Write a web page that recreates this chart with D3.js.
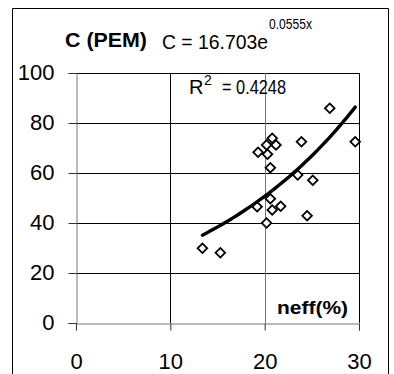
<!DOCTYPE html>
<html>
<head>
<meta charset="utf-8">
<script src="https://cdn.jsdelivr.net/npm/d3@7"></script>
<style>
  html, body { margin: 0; padding: 0; background: #fff; }
  svg { display: block; font-family: "Liberation Sans", Arial, sans-serif; }
</style>
</head>
<body>
<svg id="chart" width="394" height="374"></svg>
<script>
// ---- data ----
const neff = [20.8, 20.2, 21.2, 19.3, 20.3, 23.9, 29.6, 20.6, 23.5, 25.1, 20.6, 19.2, 20.8, 21.7, 20.2, 24.5, 13.4, 15.3, 26.9];
const cVals = [73.9, 71.2, 71.2, 68.3, 67.5, 72.5, 72.5, 62.1, 59.2, 57.1, 49.7, 46.5, 45.2, 46.7, 40.0, 42.9, 29.9, 28.1, 85.9];
const xTicks = [0, 10, 20, 30];
const yTicks = [0, 20, 40, 60, 80, 100];
const trendCoef = [16.703, 0.0555];   // C = a * e^(b x)
const title = "C (PEM)";
const xTitle = "neff(%)";
const eqMain = "C = 16.703e";
const eqExp = "0.0555x";
const r2Val = "= 0.4248";

const svg = d3.select("#chart");

// outer frame (bottom edge cut off)
svg.append("path")
  .attr("d", "M12.5,374 L12.5,8.5 L388.5,8.5 L388.5,374")
  .attr("fill", "none").attr("stroke", "#000").attr("stroke-width", 1);

const x = d3.scaleLinear().domain([0, 30]).range([76, 359]);
const y = d3.scaleLinear().domain([0, 100]).range([323, 73]);

// gridlines
const g = svg.append("g");
g.selectAll(".hg").data(yTicks.filter(d => d > 0)).join("line")
  .attr("x1", x(0)).attr("x2", x(30))
  .attr("y1", d => Math.round(y(d)) + 0.5).attr("y2", d => Math.round(y(d)) + 0.5)
  .attr("stroke", "#000").attr("stroke-width", 1);
g.selectAll(".vg").data(xTicks.filter(d => d > 0)).join("line")
  .attr("x1", d => Math.round(x(d)) + 0.5).attr("x2", d => Math.round(x(d)) + 0.5)
  .attr("y1", y(100)).attr("y2", y(0))
  .attr("stroke", d => d === 20 ? "#777" : "#000").attr("stroke-width", 1);

// axes
const yAxis = d3.axisLeft(y).tickValues(yTicks).tickSize(8).tickPadding(14).tickFormat(d3.format("d"));
const xAxis = d3.axisBottom(x).tickValues(xTicks).tickSize(7).tickPadding(23).tickFormat(d3.format("d"));

const ya = svg.append("g").attr("transform", `translate(${Math.round(x(0)) + 0.5},0)`).call(yAxis);
const xa = svg.append("g").attr("transform", `translate(0,${Math.round(y(0)) + 0.5})`).call(xAxis);
[ya, xa].forEach(a => {
  a.select(".domain").attr("stroke", "#777").attr("stroke-width", 1);
  a.selectAll(".tick line").attr("stroke", "#333");
  a.selectAll(".tick text").attr("fill", "#000")
    .style("font-family", '"Liberation Sans", Arial, sans-serif').style("font-size", "22px");
});
ya.selectAll(".tick text").attr("dy", "0.28em");
xa.selectAll(".tick text").attr("dy", "0.72em");

// points
const pts = neff.map((v, i) => ({ x: v, y: cVals[i] }));
const sym = d3.symbol().type(d3.symbolSquare).size(46);
svg.append("g").selectAll("path").data(pts).join("path")
  .attr("d", sym)
  .attr("transform", d => `translate(${x(d.x)},${y(d.y)}) rotate(45)`)
  .attr("fill", "#fff").attr("stroke", "#000").attr("stroke-width", 1.8);

// trendline
const xmin = d3.min(neff), xmax = d3.max(neff);
const tr = d3.range(0, 41).map(i => {
  const xv = xmin + (xmax - xmin) * i / 40;
  return { x: xv, y: trendCoef[0] * Math.exp(trendCoef[1] * xv) };
});
svg.append("path").datum(tr)
  .attr("d", d3.line().x(d => x(d.x)).y(d => y(d.y)))
  .attr("fill", "none").attr("stroke", "#000").attr("stroke-width", 3.4).attr("stroke-linecap", "round");

// texts
svg.append("text").attr("x", 65).attr("y", 46.5)
  .attr("font-size", 20).attr("font-weight", "bold")
  .attr("textLength", 82).attr("lengthAdjust", "spacingAndGlyphs")
  .text(title);

svg.append("text").attr("x", 162).attr("y", 49)
  .attr("font-size", 20).attr("textLength", 106).attr("lengthAdjust", "spacingAndGlyphs")
  .text(eqMain);
svg.append("text").attr("x", 269).attr("y", 28.5)
  .attr("font-size", 14).attr("textLength", 43).attr("lengthAdjust", "spacingAndGlyphs")
  .text(eqExp);

svg.append("text").attr("x", 189).attr("y", 94)
  .attr("font-size", 20).text("R");
svg.append("text").attr("x", 204).attr("y", 85)
  .attr("font-size", 14).text("2");
svg.append("text").attr("x", 222).attr("y", 94)
  .attr("font-size", 20).attr("textLength", 64).attr("lengthAdjust", "spacingAndGlyphs")
  .text(r2Val);

svg.append("text").attr("x", 277).attr("y", 314)
  .attr("font-size", 19).attr("font-weight", "bold")
  .attr("textLength", 71).attr("lengthAdjust", "spacingAndGlyphs")
  .text(xTitle);
</script>
</body>
</html>
